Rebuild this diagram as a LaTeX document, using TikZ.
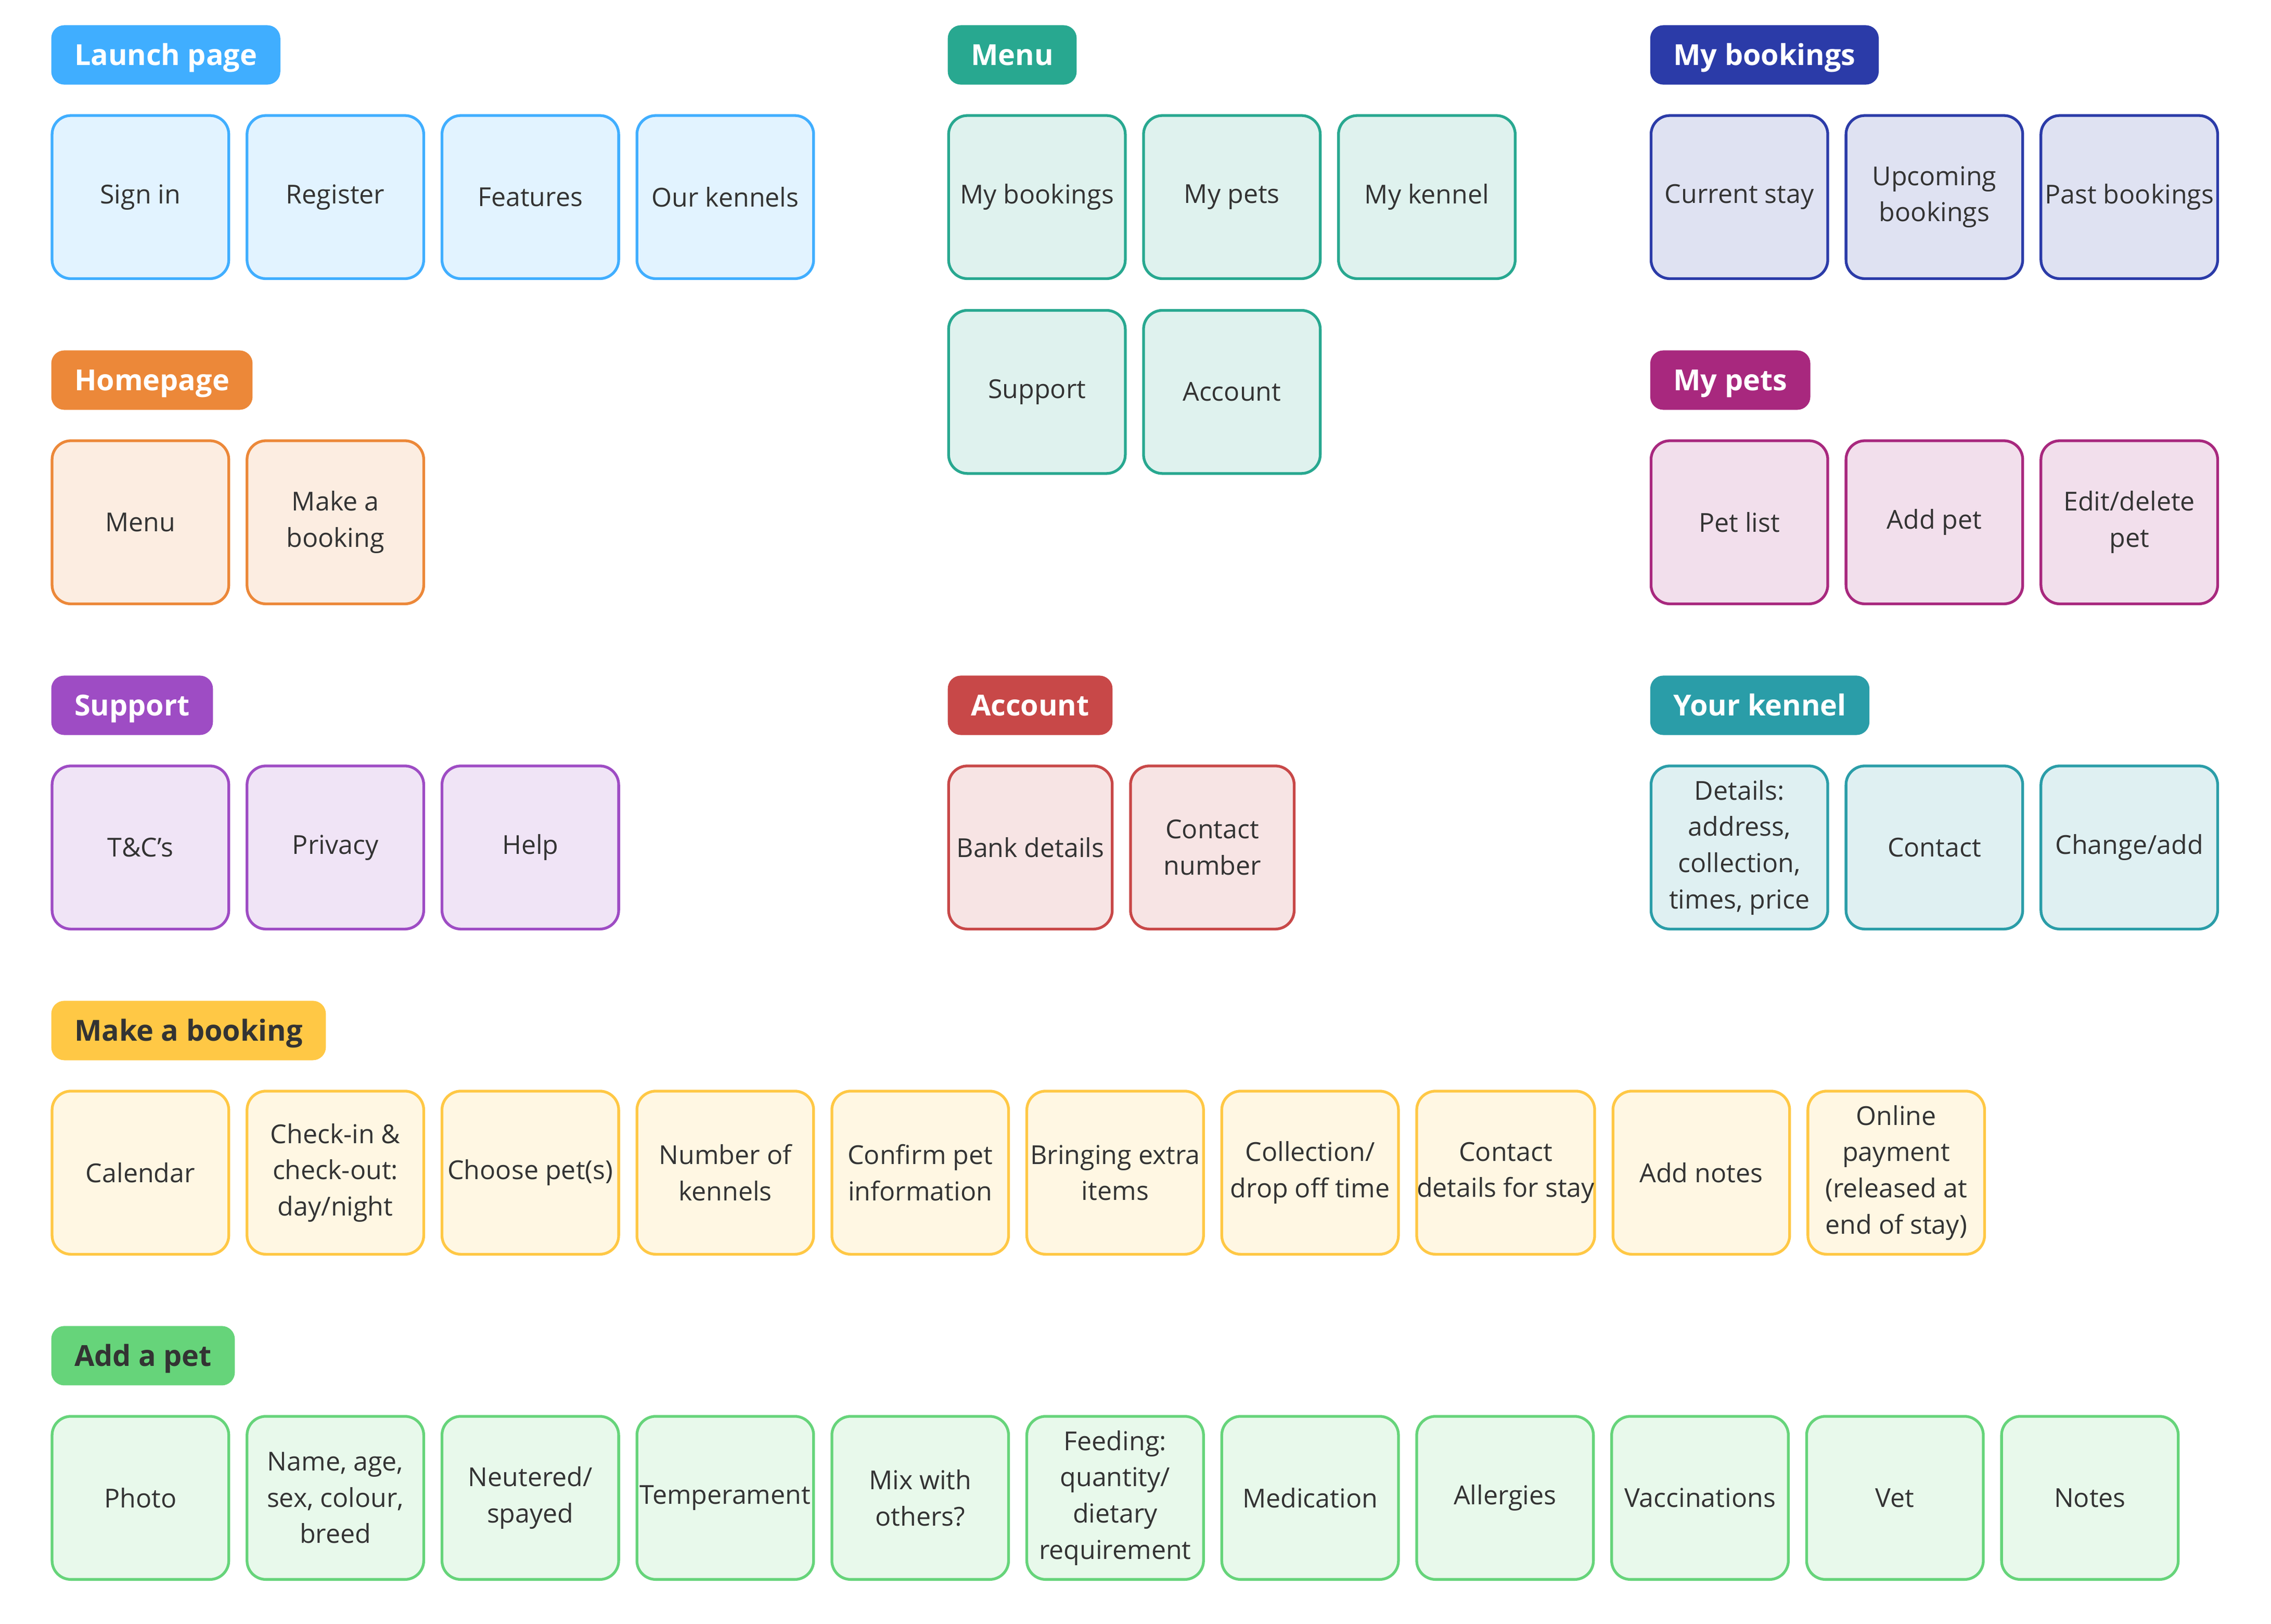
\documentclass[tikz,border=0pt]{standalone}
\usepackage{fontspec}
\setmainfont{Open Sans}
\usetikzlibrary{chains, positioning}

\definecolor{launch}{HTML}{40AEFF}
\definecolor{menu}{HTML}{28A890}
\definecolor{bookings}{HTML}{2B3BA8}
\definecolor{home}{HTML}{EC8839}
\definecolor{pets}{HTML}{A8287E}
\definecolor{support}{HTML}{9E4CC4}
\definecolor{account}{HTML}{C84848}
\definecolor{kennel}{HTML}{2A9DA8}
\definecolor{booking}{HTML}{FFC845}
\definecolor{addpet}{HTML}{66D47A}
\definecolor{ink}{HTML}{333333}

\tikzset{
  header/.style={fill=#1, text=white, anchor=north west, rounded corners=4.5pt,
    minimum height=20.5pt, inner xsep=8pt, inner ysep=0pt,
    text height=7.2pt, text depth=0pt,
    font=\bfseries\fontsize{10}{12}\selectfont},
  darkheader/.style={header=#1, text=ink},
  card/.style={draw=#1, fill=#1!15, line width=0.95pt, rounded corners=6.5pt,
    minimum width=61pt, minimum height=56.3pt, inner sep=0pt, align=center,
    text=ink, font=\fontsize{9}{12.5}\selectfont},
  narrow/.style={card=#1, minimum width=56.5pt}
}

\begin{document}
\begin{tikzpicture}[x=0.5pt, y=-0.5pt, node distance=5.35pt]
    \fill[white] (0,0) rectangle (1568,1120.8);
    \useasboundingbox (0,0) rectangle (1568,1120.8);

    % first row of headers
    \node[header=launch] (hLaunch) at (35,17) {Launch page};
    \node[header=menu] (hMenu) at (654,17) {Menu};
    \node[header=bookings] (hBookings) at (1139,17) {My bookings};

    \begin{scope}[start chain=going right]
      \node[on chain, card=launch, below right=10pt and 0pt of hLaunch.south west] (signin) {Sign in};
      \node[on chain, card=launch] (register) {Register};
      \node[on chain, card=launch] (features) {Features};
      \node[on chain, card=launch] (kennels) {Our kennels};
    \end{scope}

    \begin{scope}[start chain=going right]
      \node[on chain, card=menu, below right=10pt and 0pt of hMenu.south west] (mBookings) {My bookings};
      \node[on chain, card=menu] (mPets) {My pets};
      \node[on chain, card=menu] (mKennel) {My kennel};
    \end{scope}

    \begin{scope}[start chain=going right]
      \node[on chain, card=menu, below=10pt of mBookings] (mSupport) {Support};
      \node[on chain, card=menu] (mAccount) {Account};
    \end{scope}

    \begin{scope}[start chain=going right]
      \node[on chain, card=bookings, below right=10pt and 0pt of hBookings.south west] (current) {Current stay};
      \node[on chain, card=bookings] (upcoming) {Upcoming\\bookings};
      \node[on chain, card=bookings] (past) {Past bookings};
    \end{scope}

    % second row
    \node[header=home] (hHome) at (35,241.5) {Homepage};
    \node[header=pets] (hPets) at (1139,241.5) {My pets};

    \begin{scope}[start chain=going right]
      \node[on chain, card=home, below right=10pt and 0pt of hHome.south west] (hpMenu) {Menu};
      \node[on chain, card=home] (hpBooking) {Make a\\booking};
    \end{scope}

    \begin{scope}[start chain=going right]
      \node[on chain, card=pets, below right=10pt and 0pt of hPets.south west] (petList) {Pet list};
      \node[on chain, card=pets] (petAdd) {Add pet};
      \node[on chain, card=pets] (petEdit) {Edit/delete\\pet};
    \end{scope}

    % third row
    \node[header=support] (hSupport) at (35,466) {Support};
    \node[header=account] (hAccount) at (654,466) {Account};
    \node[header=kennel] (hKennel) at (1139,466) {Your kennel};

    \begin{scope}[start chain=going right]
      \node[on chain, card=support, below right=10pt and 0pt of hSupport.south west] (terms) {T\&C’s};
      \node[on chain, card=support] (privacy) {Privacy};
      \node[on chain, card=support] (help) {Help};
    \end{scope}

    \begin{scope}[start chain=going right]
      \node[on chain, narrow=account, below right=10pt and 0pt of hAccount.south west] (bank) {Bank details};
      \node[on chain, narrow=account] (phone) {Contact\\number};
    \end{scope}

    \begin{scope}[start chain=going right]
      \node[on chain, card=kennel, below right=10pt and 0pt of hKennel.south west] (kDetails) {Details:\\address,\\collection,\\times, price};
      \node[on chain, card=kennel] (kContact) {Contact};
      \node[on chain, card=kennel] (kChange) {Change/add};
    \end{scope}

    % make a booking
    \node[darkheader=booking] (hMake) at (35,690.5) {Make a booking};

    \begin{scope}[start chain=going right]
      \node[on chain, card=booking, below right=10pt and 0pt of hMake.south west] (calendar) {Calendar};
      \node[on chain, card=booking] (checkin) {Check-in \&\\check-out:\\day/night};
      \node[on chain, card=booking] (choose) {Choose pet(s)};
      \node[on chain, card=booking] (number) {Number of\\kennels};
      \node[on chain, card=booking] (confirm) {Confirm pet\\information};
      \node[on chain, card=booking] (extra) {Bringing extra\\items};
      \node[on chain, card=booking] (collect) {Collection/\\drop off time};
      \node[on chain, card=booking] (stayContact) {Contact\\details for stay};
      \node[on chain, card=booking] (notes) {Add notes};
      \node[on chain, card=booking] (payment) {Online\\payment\\(released at\\end of stay)};
    \end{scope}

    % add a pet
    \node[darkheader=addpet] (hAdd) at (35,915) {Add a pet};

    \begin{scope}[start chain=going right]
      \node[on chain, card=addpet, below right=10pt and 0pt of hAdd.south west] (photo) {Photo};
      \node[on chain, card=addpet] (name) {Name, age,\\sex, colour,\\breed};
      \node[on chain, card=addpet] (neutered) {Neutered/\\spayed};
      \node[on chain, card=addpet] (temper) {Temperament};
      \node[on chain, card=addpet] (mix) {Mix with\\others?};
      \node[on chain, card=addpet] (feeding) {Feeding:\\quantity/\\dietary\\requirement};
      \node[on chain, card=addpet] (medication) {Medication};
      \node[on chain, card=addpet] (allergies) {Allergies};
      \node[on chain, card=addpet] (vaccines) {Vaccinations};
      \node[on chain, card=addpet] (vet) {Vet};
      \node[on chain, card=addpet] (petNotes) {Notes};
    \end{scope}
  \end{tikzpicture}
\end{document}
